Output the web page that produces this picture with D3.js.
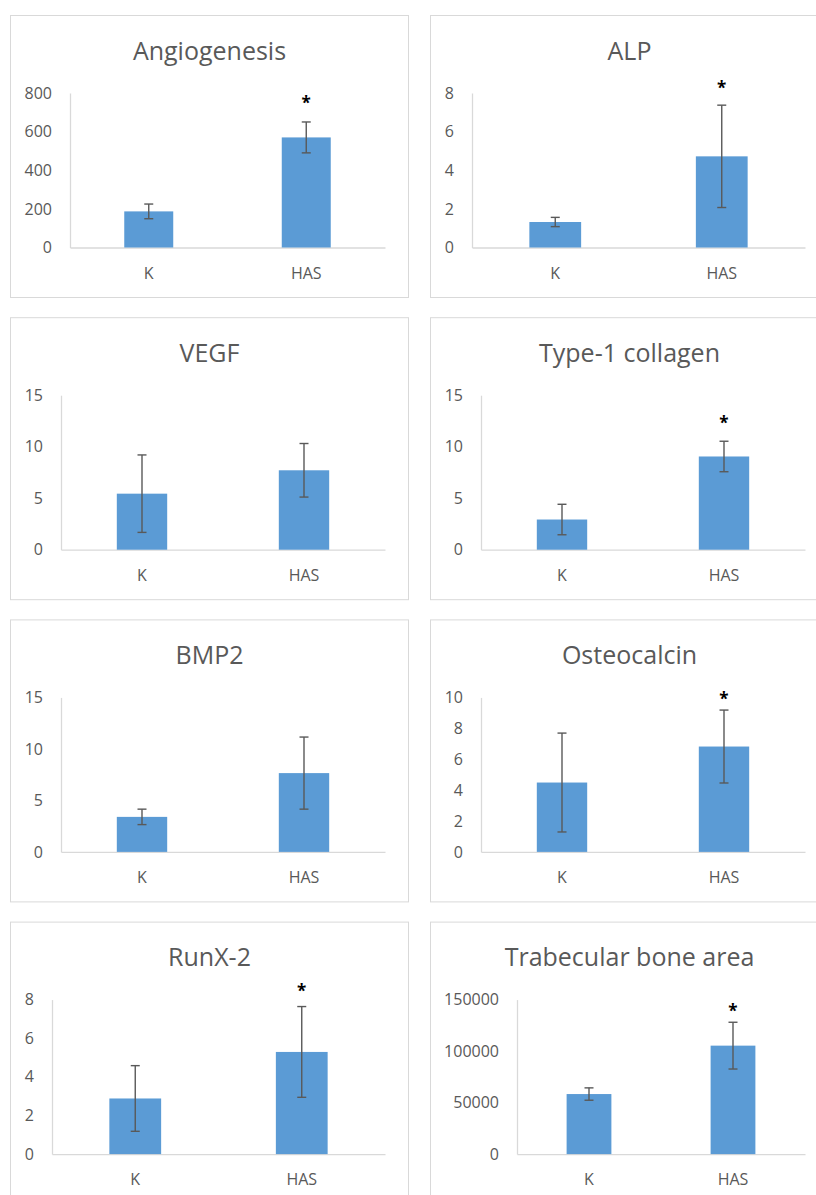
<!DOCTYPE html>
<html>
<head>
<meta charset="utf-8">
<script src="https://cdn.jsdelivr.net/npm/d3@7"></script>
<style>
  body { margin: 0; background: #fff; }
  svg { display: block; font-family: "Open Sans", "Noto Sans", sans-serif; }
</style>
</head>
<body>
<div class="charts"></div>
<script>
// values (mean, error = SD)
const titles = ["Angiogenesis", "ALP", "VEGF", "Type-1 collagen", "BMP2", "Osteocalcin", "RunX-2", "Trabecular bone area"]
const categories = ["K", "HAS"]
const means = [[187, 570], [1.32, 4.72], [5.44, 7.71], [2.93, 9.05], [3.4, 7.65], [4.49, 6.82], [2.88, 5.29], [58300, 105300]]
const errors = [[38, 80], [0.24, 2.65], [3.76, 2.6], [1.48, 1.48], [0.75, 3.5], [3.2, 2.36], [1.7, 2.35], [6000, 22700]]
const yMax = [800, 8, 15, 15, 15, 10, 8, 150000]
const yStep = [200, 2, 5, 5, 5, 2, 2, 50000]
// level of the significance star (null = no star)
const stars = [[null, 764], [null, 8.41], [null, null], [null, 12.6], [null, null], [null, 10.08], [null, 8.62], [null, 142200]]

const W = 816, H = 1195

const svg = d3.select(".charts").append("svg")
  .attr("width", W)
  .attr("height", H)

class BarPanel {
  constructor(i, left, top) {
    this.i = i
    this.left = left
    this.top = top
    this.w = 398
    this.h = 282
    this.g = svg.append("g").attr("transform", "translate(" + left + "," + top + ")")
    this.data = categories.map((c, k) => ({name: c, value: means[i][k], err: errors[i][k], star: stars[i][k]}))

    this.drawFrame()
    this.createAxes()
    this.draw()
  }

  drawFrame() {
    this.g.append("rect")
      .attr("x", 0.5).attr("y", 0.5)
      .attr("width", this.w).attr("height", this.h)
      .attr("fill", "#fff").attr("stroke", "#d9d9d9")
    this.g.append("text")
      .text(titles[this.i])
      .attr("x", this.w / 2 + 0.5)
      .attr("y", 44.5)
      .attr("text-anchor", "middle")
      .attr("font-size", 25)
      .attr("fill", "#595959")
  }

  createAxes() {
    const top = 78, base = 232.5
    this.scaleY = d3.scaleLinear().domain([0, yMax[this.i]]).range([base, top])

    var axisY = this.g.append("g")
    axisY.call(d3.axisLeft(this.scaleY)
      .tickValues(d3.range(0, yMax[this.i] + yStep[this.i] / 2, yStep[this.i]))
      .tickFormat(d3.format("d"))
      .tickSize(0).tickPadding(18))
    axisY.attr("font-family", null).attr("font-size", 16)
    axisY.selectAll("text").attr("fill", "#595959")
    axisY.select(".domain").attr("stroke", "#d9d9d9").attr("stroke-width", 1.3)

    // push the axis right of its widest label
    var labelW = d3.max(axisY.selectAll("text").nodes(), (n) => n.getComputedTextLength())
    this.x0 = Math.round(14.5 + labelW + 18)
    axisY.attr("transform", "translate(" + this.x0 + ",0)")

    this.scaleX = d3.scaleBand().domain(categories)
      .range([this.x0, this.w - 23])
      .paddingInner(0.689).paddingOuter(0.3445)

    var axisX = this.g.append("g")
    axisX.attr("transform", "translate(0," + base + ")")
    axisX.call(d3.axisBottom(this.scaleX).tickSize(0).tickSizeOuter(0).tickPadding(20))
    axisX.attr("font-family", null).attr("font-size", 16)
    axisX.selectAll("text").attr("fill", "#595959")
    axisX.select(".domain").attr("stroke", "#d9d9d9").attr("stroke-width", 1.3)
  }

  draw() {
    var that = this
    var mid = (d) => that.scaleX(d.name) + that.scaleX.bandwidth() / 2

    this.g.append("g").attr("class", "bars")
      .selectAll("rect")
      .data(this.data)
      .enter()
      .append("rect")
      .attr("x", (d) => that.scaleX(d.name))
      .attr("width", this.scaleX.bandwidth())
      .attr("y", (d) => that.scaleY(d.value))
      .attr("height", (d) => that.scaleY(0) - that.scaleY(d.value))
      .attr("fill", "#5b9bd5")

    var eb = this.g.append("g").attr("class", "errorbars")
      .attr("stroke", "#595959").attr("stroke-width", 1.4)
    eb.selectAll(".stem").data(this.data).enter().append("line")
      .attr("x1", mid).attr("x2", mid)
      .attr("y1", (d) => that.scaleY(d.value + d.err))
      .attr("y2", (d) => that.scaleY(d.value - d.err))
    eb.selectAll(".capTop").data(this.data).enter().append("line")
      .attr("x1", (d) => mid(d) - 4.5).attr("x2", (d) => mid(d) + 4.5)
      .attr("y1", (d) => that.scaleY(d.value + d.err))
      .attr("y2", (d) => that.scaleY(d.value + d.err))
    eb.selectAll(".capBot").data(this.data).enter().append("line")
      .attr("x1", (d) => mid(d) - 4.5).attr("x2", (d) => mid(d) + 4.5)
      .attr("y1", (d) => that.scaleY(d.value - d.err))
      .attr("y2", (d) => that.scaleY(d.value - d.err))

    this.g.append("g").attr("class", "stars")
      .selectAll("text")
      .data(this.data.filter((d) => d.star != null))
      .enter()
      .append("text")
      .text("*")
      .attr("x", mid)
      .attr("y", (d) => that.scaleY(d.star) + 9)
      .attr("text-anchor", "middle")
      .attr("font-size", 17)
      .attr("font-weight", "bold")
      .attr("fill", "#000")
  }
}

titles.forEach((t, i) => {
  var col = i % 2, row = Math.floor(i / 2)
  new BarPanel(i, col === 0 ? 10 : 430, 15 + row * 302.2)
})
</script>
</body>
</html>
